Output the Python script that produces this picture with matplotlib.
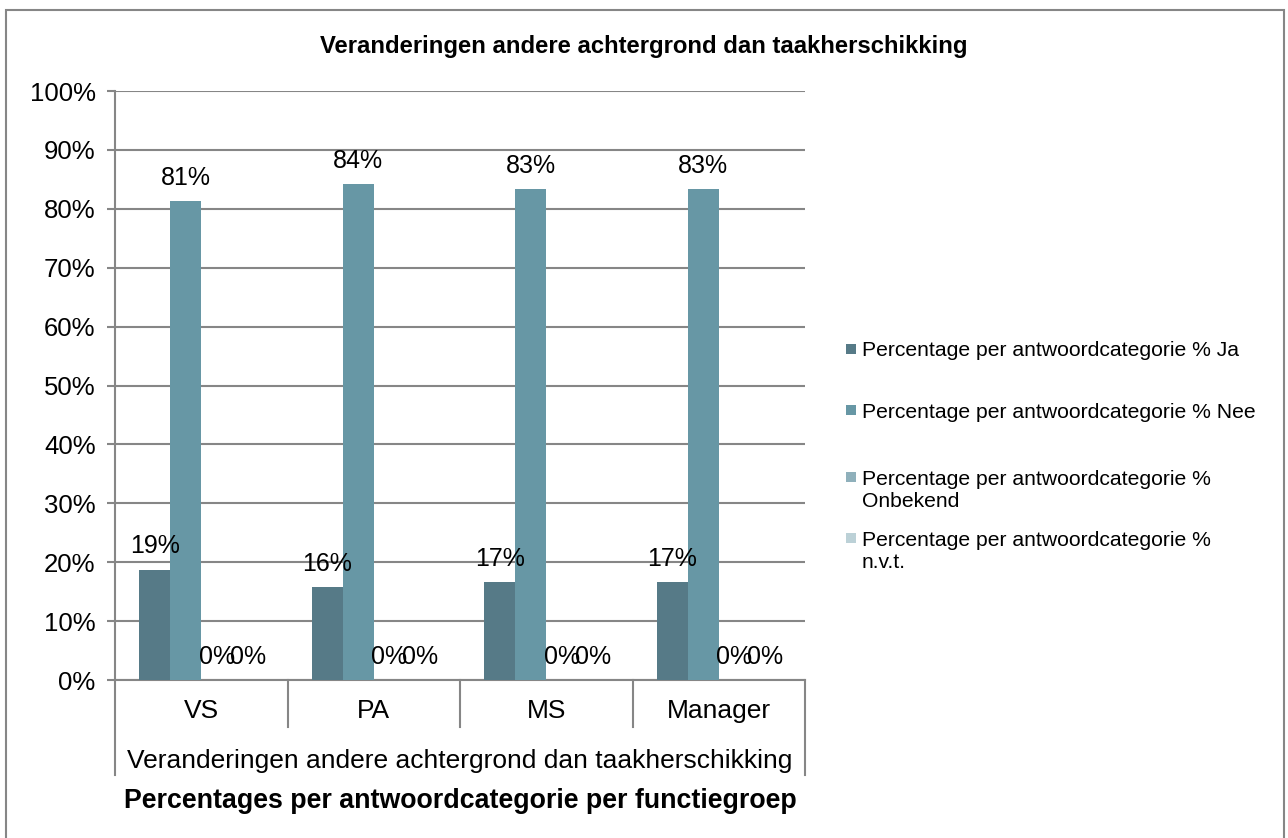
import matplotlib
matplotlib.use("Agg")
import matplotlib.pyplot as plt
from matplotlib.patches import Rectangle
from matplotlib.lines import Line2D
import numpy as np

plt.rcParams['font.family'] = ['Liberation Sans', 'DejaVu Sans']

categories = ["VS", "PA", "MS", "Manager"]
series_names = [
    "Percentage per antwoordcategorie % Ja",
    "Percentage per antwoordcategorie % Nee",
    "Percentage per antwoordcategorie %\nOnbekend",
    "Percentage per antwoordcategorie %\nn.v.t.",
]
pct_ja = [18.75, 15.79, 16.67, 16.67]
pct_nee = [81.25, 84.21, 83.33, 83.33]
pct_onbekend = [0, 0, 0, 0]
pct_nvt = [0, 0, 0, 0]
series_values = [pct_ja, pct_nee, pct_onbekend, pct_nvt]
colors = ["#567A87", "#6797A5", "#8FB0BB", "#BCD1D7"]
y_ticks = list(range(0, 101, 10))
group_label = "Veranderingen andere achtergrond dan taakherschikking"
x_title = "Percentages per antwoordcategorie per functiegroep"
chart_title = "Veranderingen andere achtergrond dan taakherschikking"

W, H = 1288, 838
fig = plt.figure(figsize=(W / 100, H / 100), dpi=100)
fig.patch.set_facecolor("white")

# plot area in pixel coordinates
left, right, top, bottom = 115, 805, 91, 680
ax = fig.add_axes([left / W, 1 - bottom / H, (right - left) / W, (bottom - top) / H])

grey = "#868686"
x = np.arange(len(categories))
bar_w = 0.18
offsets = (np.arange(len(series_values)) - 1.5) * bar_w

for vals, name, col, off in zip(series_values, series_names, colors, offsets):
    bars = ax.bar(x + off, vals, width=bar_w, color=col, label=name, zorder=3)
    for b, v in zip(bars, vals):
        ax.annotate(f"{v:.0f}%", (b.get_x() + b.get_width() / 2, v),
                    xytext=(0, 8), textcoords="offset points",
                    ha="center", va="bottom", fontsize=18, color="black", zorder=4)

ax.set_xlim(-0.5, len(categories) - 0.5)
ax.set_ylim(0, 100)
ax.set_yticks(y_ticks)
ax.set_yticklabels([f"{t}%" for t in y_ticks], fontsize=18.5)
ax.yaxis.grid(True, color=grey, linewidth=1.5, zorder=0)
ax.set_axisbelow(True)
ax.tick_params(axis="y", direction="out", length=6, width=1.5, color=grey, pad=8)

ax.set_xticks(x)
ax.set_xticklabels(categories, fontsize=19)
ax.tick_params(axis="x", length=0, pad=14)

for s in ["top", "right"]:
    ax.spines[s].set_visible(False)
for s in ["left", "bottom"]:
    ax.spines[s].set_color(grey)
    ax.spines[s].set_linewidth(1.5)

# multi-level category axis dividers
ph = bottom - top
tr = ax.get_xaxis_transform()
inner_depth = -(727 - bottom) / ph
outer_depth = -(775 - bottom) / ph
for xb in np.arange(-0.5, len(categories), 1.0):
    outer = xb in (-0.5, len(categories) - 0.5)
    ax.add_line(Line2D([xb, xb], [0, outer_depth if outer else inner_depth],
                       transform=tr, color=grey, linewidth=1.5, clip_on=False))

ax.text(0.5, -(761 - bottom) / ph, group_label, transform=ax.transAxes,
        ha="center", va="center", fontsize=19)
ax.text(0.5, -(801 - bottom) / ph, x_title, transform=ax.transAxes,
        ha="center", va="center", fontsize=19.3, fontweight="bold")

fig.text(644 / W, 1 - 46 / H, chart_title, ha="center", va="center",
         fontsize=17.2, fontweight="bold")

# legend entries: square swatch beside the first line of each label
legend_rows = [349, 410, 477, 538]
for name, col, yc in zip(series_names, colors, legend_rows):
    fig.add_artist(Rectangle((846 / W, 1 - (yc + 5) / H), 10 / W, 10 / H,
                             transform=fig.transFigure, facecolor=col,
                             edgecolor="none"))
    fig.text(862 / W, 1 - (yc - 7.5) / H, name, ha="left", va="top",
             fontsize=15.2, linespacing=1.2)

# chart border
fig.add_artist(Rectangle((6 / W, -0.1), (1284 - 6) / W, (1 - 10 / H) + 0.1,
                         transform=fig.transFigure, fill=False,
                         edgecolor=grey, linewidth=1.5))

fig.savefig("out.png", dpi=100)
